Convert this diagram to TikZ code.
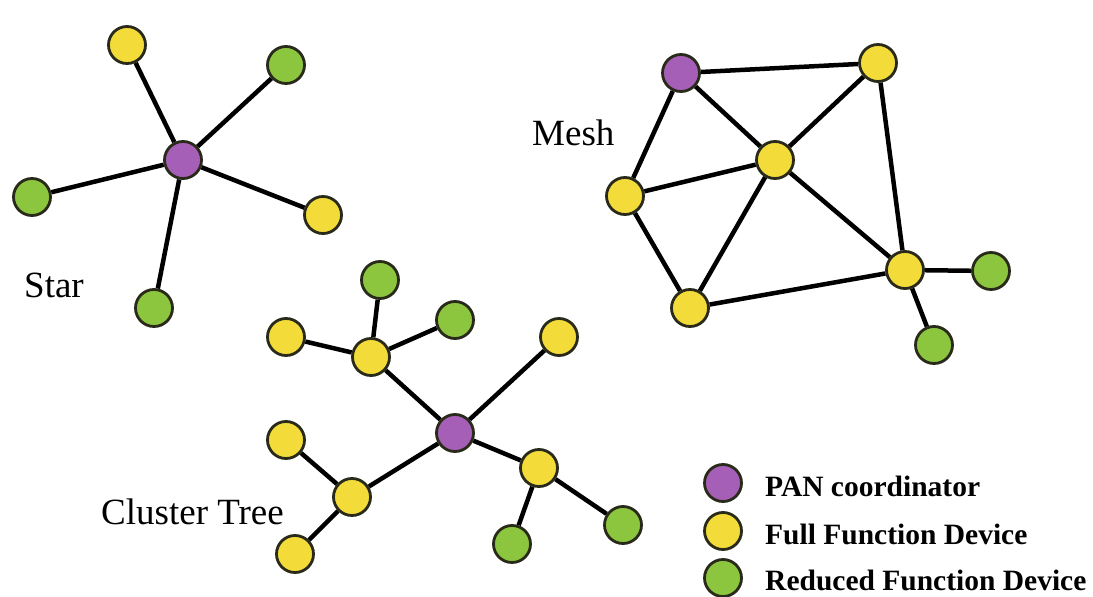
\documentclass[tikz,border=0pt]{standalone}
\usepackage{fontspec}
\setmainfont{Liberation Serif}
\definecolor{pan}{HTML}{A65FB6}
\definecolor{ffd}{HTML}{F3DC3A}
\definecolor{rfd}{HTML}{8CC63F}
\definecolor{rim}{HTML}{2A2A1A}
\begin{document}
\begin{tikzpicture}[x=1pt,y=-1pt,
  dev/.style={circle,draw=rim,line width=2.8pt,minimum size=37pt,inner sep=0pt},
  pannode/.style={dev,fill=pan},
  ffdnode/.style={dev,fill=ffd},
  rfdnode/.style={dev,fill=rfd},
  link/.style={line width=4.5pt,black},
  title/.style={font=\fontsize{37}{40}\selectfont,inner sep=0pt},
  legtext/.style={font=\bfseries\fontsize{29.5}{32}\selectfont,anchor=west,inner sep=0pt}]
\useasboundingbox (0,0) rectangle (1093,597);
% Star
\node[pannode] (s0) at (183,160) {};
\node[ffdnode] (s1) at (127,45) {};
\node[rfdnode] (s2) at (286,65) {};
\node[rfdnode] (s3) at (32,197) {};
\node[ffdnode] (s4) at (323,215) {};
\node[rfdnode] (s5) at (154,308) {};
\node[title,anchor=west] (star) at (24,285) {Star};
% Mesh
\node[pannode] (m0) at (681,73) {};
\node[ffdnode] (m1) at (878,63) {};
\node[ffdnode] (m2) at (775,160) {};
\node[ffdnode] (m3) at (625,196) {};
\node[ffdnode] (m4) at (690,308) {};
\node[ffdnode] (m5) at (905,270) {};
\node[rfdnode] (m6) at (991,271) {};
\node[rfdnode] (m7) at (934,345) {};
\node[title,anchor=west] (mesh) at (532,133) {Mesh};
% Cluster tree
\node[pannode] (c0) at (455,433) {};
\node[ffdnode] (c1) at (371,357) {};
\node[rfdnode] (c2) at (380,280) {};
\node[rfdnode] (c3) at (455,320) {};
\node[ffdnode] (c4) at (286,337) {};
\node[ffdnode] (c5) at (559,337) {};
\node[ffdnode] (c6) at (539,468) {};
\node[rfdnode] (c7) at (512,544) {};
\node[rfdnode] (c8) at (623,525) {};
\node[ffdnode] (c9) at (352,497) {};
\node[ffdnode] (c10) at (286,440) {};
\node[ffdnode] (c11) at (295,554) {};
\node[title,anchor=west] (tree) at (101,512) {Cluster Tree};
% Legend
\node[pannode] (l1) at (723,483) {};
\node[ffdnode] (l2) at (723,531) {};
\node[rfdnode] (l3) at (723,578) {};
\node[legtext] (t1) at (765,486) {PAN coordinator};
\node[legtext] (t2) at (765,534) {Full Function Device};
\node[legtext] (t3) at (765,580) {Reduced Function Device};
% Links
\foreach \a/\b in {s0/s1,s0/s2,s0/s3,s0/s4,s0/s5,
  m0/m1,m0/m2,m0/m3,m1/m2,m1/m5,m2/m3,m2/m4,m2/m5,m3/m4,m4/m5,m5/m6,m5/m7,
  c0/c1,c1/c2,c1/c3,c1/c4,c0/c5,c0/c6,c6/c7,c6/c8,c0/c9,c9/c10,c9/c11}
  \draw[link] (\a) -- (\b);
\end{tikzpicture}
\end{document}
